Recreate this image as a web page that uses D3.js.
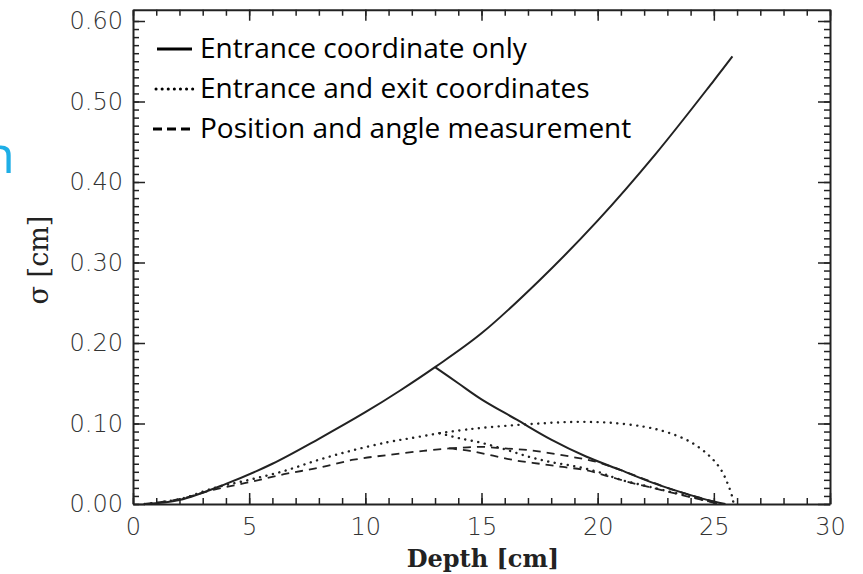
<!DOCTYPE html>
<html>
<head>
<meta charset="utf-8">
<script src="https://cdn.jsdelivr.net/npm/d3@7"></script>
<style>
  body { margin: 0; background: #fff; }
  .tick text { font-family: "DejaVu Sans", sans-serif; font-weight: 200; fill: #333; }
  .frame path.domain { stroke: #222; stroke-width: 2; }
  .tick line { stroke: #222; stroke-width: 1.5; }
</style>
</head>
<body>
<script>
// axis ticks
var depthTicks = [0, 5, 10, 15, 20, 25, 30];
var sigmaTicks = [0, 0.1, 0.2, 0.3, 0.4, 0.5, 0.6];

// entrance coordinate only (solid), two branches
var entranceRise = [[0.5,0],[2,0.005],[4,0.025],[6,0.050],[8,0.081],[10,0.114],[11.5,0.141],[13,0.170],
  [15,0.212],[17.5,0.278],[20,0.352],[22.5,0.435],[25,0.526],[25.8,0.556]];
var entranceFall = [[13,0.170],[14,0.150],[15,0.130],[16.5,0.105],[18,0.080],[19.5,0.059],[21,0.042],
  [22.5,0.025],[24,0.011],[25,0.003],[25.5,0]];

// entrance and exit coordinates (dotted)
var exitRise = [[0.5,0],[2,0.006],[3.5,0.020],[5,0.030],[6.5,0.041],[8,0.055],[9.5,0.067],[11,0.077],[12,0.082],[13.2,0.088]];
var exitUpper = [[13.2,0.088],[14.5,0.093],[16,0.097],[17.5,0.100],[19,0.102],[20.5,0.101],[22,0.096],[23,0.089],
  [24,0.077],[24.8,0.060],[25.3,0.043],[25.6,0.025],[25.8,0.008],[25.85,0]];
var exitLower = [[13.2,0.088],[14,0.082],[15,0.076],[16,0.068],[17,0.059],[18,0.052],[19,0.047],[20,0.040],
  [21,0.030],[22,0.023],[23,0.016],[24,0.009],[25,0.002],[25.3,0]];

// position and angle measurement (dashed)
var angleRise = [[0.5,0],[2,0.006],[3.5,0.018],[5,0.027],[6.5,0.037],[8,0.045],[9.5,0.055],[11,0.061],[12.5,0.066],[13.6,0.069]];
var angleUpper = [[13.6,0.069],[15,0.071],[16,0.069],[17,0.067],[18,0.063],[19,0.058],[20,0.052],[21,0.042],
  [22,0.031],[23,0.020],[24,0.011],[25,0.003],[25.3,0]];
var angleLower = [[13.6,0.069],[14.5,0.066],[15.5,0.060],[16.5,0.054],[17.5,0.050],[18.5,0.046],[19.5,0.042],
  [20.5,0.034],[21.5,0.026],[22.5,0.019],[23.5,0.012],[24.5,0.005],[25.2,0]];

var legendLabels = ["Entrance coordinate only", "Entrance and exit coordinates", "Position and angle measurement"];

var W = 863, H = 574;
var x = d3.scaleLinear().domain([0, 30]).range([133, 830]);
var y = d3.scaleLinear().domain([0, 0.6]).range([504, 21]);
var yTop = y(0.614);

var svg = d3.select("body").append("svg")
  .attr("width", W).attr("height", H);

// partial blue title letter at the left edge
svg.append("text")
  .attr("x", 15).attr("y", 173)
  .attr("text-anchor", "end")
  .style("font-family", "Open Sans, sans-serif")
  .style("font-size", "52px")
  .style("fill", "#1eaee6")
  .text("n");

// minor tick values
var depthMinor = d3.range(0, 31, 1);
var sigmaMinor = d3.range(0, 61, 1).map(function(d) { return d / 100; });

// bottom axis
var gb = svg.append("g").attr("class", "frame").attr("transform", "translate(0," + y(0) + ")");
gb.call(d3.axisBottom(x).tickValues(depthMinor).tickSize(-6).tickFormat("").tickSizeOuter(0));
gb.append("g").call(d3.axisBottom(x).tickValues(depthTicks).tickSize(-11).tickPadding(14)
    .tickFormat(d3.format("d")).tickSizeOuter(0))
  .call(function(g) { g.select(".domain").remove(); })
  .selectAll("text").style("font-size", "24px");

// top axis
var gt = svg.append("g").attr("class", "frame").attr("transform", "translate(0," + yTop + ")");
gt.call(d3.axisTop(x).tickValues(depthMinor).tickSize(-6).tickFormat("").tickSizeOuter(0));
gt.append("g").call(d3.axisTop(x).tickValues(depthTicks).tickSize(-11).tickFormat("").tickSizeOuter(0))
  .call(function(g) { g.select(".domain").remove(); });

var yFrame = d3.scaleLinear().domain([0, 0.614]).range([y(0), yTop]);

// left axis
var gl = svg.append("g").attr("class", "frame").attr("transform", "translate(" + x(0) + ",0)");
gl.call(d3.axisLeft(yFrame).tickValues(sigmaMinor).tickSize(-6).tickFormat("").tickSizeOuter(0));
gl.append("g").call(d3.axisLeft(y).tickValues(sigmaTicks).tickSize(-12).tickPadding(10)
    .tickFormat(d3.format(".2f")).tickSizeOuter(0))
  .call(function(g) { g.select(".domain").remove(); })
  .selectAll("text").style("font-size", "24px");

// right axis
var gr = svg.append("g").attr("class", "frame").attr("transform", "translate(" + x(30) + ",0)");
gr.call(d3.axisRight(yFrame).tickValues(sigmaMinor).tickSize(-6).tickFormat("").tickSizeOuter(0));
gr.append("g").call(d3.axisRight(y).tickValues(sigmaTicks).tickSize(-12).tickFormat("").tickSizeOuter(0))
  .call(function(g) { g.select(".domain").remove(); });

// axis titles
svg.append("text")
  .attr("x", 483).attr("y", 567)
  .attr("text-anchor", "middle")
  .style("font-family", "DejaVu Serif, serif")
  .style("font-weight", "bold")
  .style("font-size", "24px")
  .style("fill", "#222")
  .text("Depth [cm]");

svg.append("text")
  .attr("transform", "translate(48,260) rotate(-90)")
  .attr("text-anchor", "middle")
  .style("font-family", "DejaVu Serif, serif")
  .style("font-size", "27px")
  .style("fill", "#222")
  .text("\u03c3 [cm]");

// curves
var line = d3.line()
  .x(function(d) { return x(d[0]); })
  .y(function(d) { return y(d[1]); })
  .curve(d3.curveCatmullRom.alpha(0.5));

var styles = [
  { dash: null, width: 2, cap: "butt" },
  { dash: "0.1,6.5", width: 2.4, cap: "round" },
  { dash: "8,6", width: 1.8, cap: "butt" }
];

var curves = [
  { data: entranceRise, s: 0 }, { data: entranceFall, s: 0 },
  { data: exitRise, s: 1 }, { data: exitUpper, s: 1 }, { data: exitLower, s: 1 },
  { data: angleRise, s: 2 }, { data: angleUpper, s: 2 }, { data: angleLower, s: 2 }
];

svg.selectAll(".curve").data(curves).enter().append("path")
  .attr("class", "curve")
  .attr("d", function(d) { return line(d.data); })
  .attr("fill", "none")
  .attr("stroke", "#222")
  .attr("stroke-width", function(d) { return styles[d.s].width; })
  .attr("stroke-linecap", function(d) { return styles[d.s].cap; })
  .attr("stroke-dasharray", function(d) { return styles[d.s].dash; });

// legend
var legend = svg.selectAll(".legend").data(legendLabels).enter().append("g")
  .attr("class", "legend")
  .attr("transform", function(d, i) { return "translate(0," + (58 + i * 40) + ")"; });

legend.append("line")
  .attr("x1", function(d, i) { return [157, 156, 153][i]; })
  .attr("x2", function(d, i) { return [192, 193, 195][i]; })
  .attr("y1", -9).attr("y2", -9)
  .attr("stroke", "#000")
  .attr("stroke-width", 3)
  .attr("stroke-linecap", function(d, i) { return i == 1 ? "round" : "butt"; })
  .attr("stroke-dasharray", function(d, i) { return ["", "0.1,6", "9,5"][i]; });

legend.append("text")
  .attr("x", 200)
  .style("font-family", "Open Sans, sans-serif")
  .style("font-size", "28px")
  .style("fill", "#000")
  .text(function(d) { return d; });
</script>
</body>
</html>
